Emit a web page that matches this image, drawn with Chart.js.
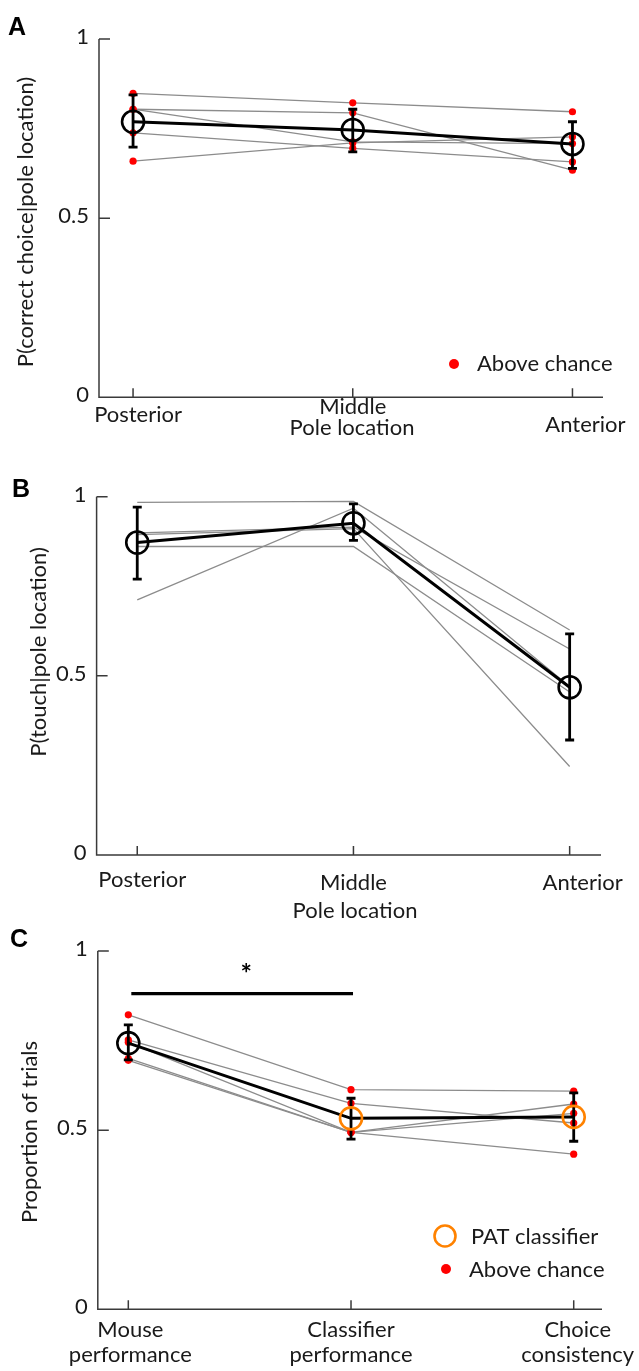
<!DOCTYPE html>
<html>
<head>
<meta charset="utf-8">
<title>Pole location / classifier</title>
<script src="https://cdn.jsdelivr.net/npm/chart.js"></script>
<style>
  html, body { margin: 0; padding: 0; background: #fff; }
  #figura { position: relative; width: 639px; height: 1371px; }
  canvas { position: absolute; left: 0; top: 0; }
</style>
</head>
<body>
<div id="figura">
  <canvas id="chartA" width="639" height="1371"></canvas>
  <canvas id="chartB" width="639" height="1371"></canvas>
  <canvas id="chartC" width="639" height="1371"></canvas>
</div>
<script>
// ---- datos ----
const poleLocations = ['Posterior', 'Middle', 'Anterior'];
const metricLabels = [['Mouse', 'performance'], ['Classifier', 'performance'], ['Choice', 'consistency']];
const yTicks = [0, 0.5, 1];

// A: P(correct choice | pole location), una fila por raton
const correctByMouse = [
  [0.848, 0.822, 0.797],
  [0.804, 0.794, 0.634],
  [0.804, 0.713, 0.708],
  [0.738, 0.695, 0.657],
  [0.659, 0.710, 0.727]
];
const correctMean = [0.769, 0.746, 0.707];
const correctLow = [0.698, 0.685, 0.639];
const correctHigh = [0.844, 0.804, 0.769];

// B: P(touch | pole location)
const touchByMouse = [
  [0.984, 0.987, 0.628],
  [0.712, 0.968, 0.470],
  [0.899, 0.915, 0.575],
  [0.894, 0.911, 0.247],
  [0.861, 0.861, 0.455]
];
const touchMean = [0.872, 0.926, 0.468];
const touchLow = [0.770, 0.878, 0.321];
const touchHigh = [0.971, 0.980, 0.617];

// C: proporcion de ensayos
const choiceByMouse = [
  [0.822, 0.613, 0.609],
  [0.752, 0.575, 0.520],
  [0.745, 0.494, 0.573],
  [0.700, 0.494, 0.547],
  [0.695, 0.494, 0.433]
];
const choiceMean = [0.743, 0.533, 0.537];
const choiceLow = [0.696, 0.475, 0.469];
const choiceHigh = [0.794, 0.589, 0.604];
const sigFrom = 0, sigTo = 1, sigLevel = 0.881, sigStarY = 0.952;

// ---- estilo ----
const FONT = '"Lato", "Open Sans", sans-serif';
const AXIS = '#3a3a3a';
const GRAY = '#8c8c8c';
const RED = '#ff0000';
const ORANGE = '#ff8200';
const H = 1371;

function pts(arr) { return arr.map((v, i) => ({ x: i, y: v })); }

function decor(p) {
  return {
    id: 'decor' + p.letter,
    afterDatasetDraw(chart, args) {
      if (chart.data.datasets[args.index].label !== 'media') return;
      const { ctx, scales: { x, y } } = chart;
      ctx.save();
      ctx.strokeStyle = '#000';
      ctx.lineWidth = 2.8;
      p.low.forEach((lo, i) => {
        const px = x.getPixelForValue(i);
        const y1 = y.getPixelForValue(lo), y2 = y.getPixelForValue(p.high[i]);
        ctx.beginPath();
        ctx.moveTo(px, y1); ctx.lineTo(px, y2);
        ctx.moveTo(px - 4.5, y1); ctx.lineTo(px + 4.5, y1);
        ctx.moveTo(px - 4.5, y2); ctx.lineTo(px + 4.5, y2);
        ctx.stroke();
      });
      ctx.restore();
    },
    afterDraw(chart) {
      const { ctx, chartArea: a, scales: { x, y } } = chart;
      ctx.save();
      // ejes
      ctx.strokeStyle = AXIS;
      ctx.lineWidth = 1.5;
      ctx.beginPath();
      ctx.moveTo(a.left, y.getPixelForValue(1));
      ctx.lineTo(a.left, y.getPixelForValue(0));
      ctx.lineTo(a.right, y.getPixelForValue(0));
      yTicks.forEach(t => {
        const py = y.getPixelForValue(t);
        ctx.moveTo(a.left, py); ctx.lineTo(a.left + 11, py);
      });
      p.xLabels.forEach((_, i) => {
        const px = x.getPixelForValue(i);
        ctx.moveTo(px, a.bottom); ctx.lineTo(px, a.bottom - 9);
      });
      ctx.stroke();

      ctx.fillStyle = '#1a1a1a';
      ctx.font = '22px ' + FONT;
      ctx.textAlign = 'right';
      ctx.textBaseline = 'middle';
      yTicks.forEach(t => ctx.fillText(String(t), a.left - 10, y.getPixelForValue(t) - 2));

      // etiquetas del eje x
      ctx.textAlign = 'center';
      ctx.textBaseline = 'alphabetic';
      p.xLabels.forEach((lab, i) => {
        const px = x.getPixelForValue(i) + p.xLabelDx[i];
        const lines = Array.isArray(lab) ? lab : [lab];
        lines.forEach((ln, k) => ctx.fillText(ln, px, p.xLabelY[i] + k * 25));
      });
      if (p.xTitle) ctx.fillText(p.xTitle, p.xTitleX, p.xTitleY);

      // titulo eje y
      ctx.save();
      ctx.translate(p.yTitleX, p.yTitleY);
      ctx.rotate(-Math.PI / 2);
      ctx.textBaseline = 'middle';
      ctx.fillText(p.yTitle, 0, 0);
      ctx.restore();

      // letra del panel
      ctx.fillStyle = '#000';
      ctx.font = 'bold 25px "Liberation Sans", Arial, sans-serif';
      ctx.textAlign = 'left';
      ctx.fillText(p.letter, p.letterX, p.letterY);

      // leyenda
      ctx.font = '22px ' + FONT;
      p.legend.forEach(item => {
        if (item.kind === 'dot') {
          ctx.fillStyle = RED;
          ctx.beginPath(); ctx.arc(item.mx, item.my, 5, 0, Math.PI * 2); ctx.fill();
        } else {
          ctx.strokeStyle = ORANGE; ctx.lineWidth = 2.6;
          ctx.beginPath(); ctx.arc(item.mx, item.my, 10.5, 0, Math.PI * 2); ctx.stroke();
        }
        ctx.fillStyle = '#1a1a1a';
        ctx.fillText(item.text, item.tx, item.ty);
      });

      // barra de significancia
      if (p.sig) {
        ctx.strokeStyle = '#000';
        ctx.lineWidth = 3.3;
        const sy = y.getPixelForValue(sigLevel);
        ctx.beginPath();
        ctx.moveTo(x.getPixelForValue(sigFrom) + 3, sy);
        ctx.lineTo(x.getPixelForValue(sigTo) + 2, sy);
        ctx.stroke();
        ctx.fillStyle = '#000';
        ctx.font = 'bold 27px ' + FONT;
        ctx.textAlign = 'center';
        ctx.textBaseline = 'middle';
        ctx.fillText('*', x.getPixelForValue(0.53), y.getPixelForValue(sigStarY) + 6);
      }
      ctx.restore();
    }
  };
}

function buildChart(id, p) {
  const datasets = [];
  datasets.push({
    label: 'puntos', data: pts(p.mean), showLine: false, order: 1, clip: false,
    pointRadius: 11, pointHoverRadius: 11, pointBorderWidth: 2.6,
    pointBackgroundColor: 'rgba(0,0,0,0)', pointBorderColor: p.meanColors
  });
  datasets.push({
    label: 'media', data: pts(p.mean), order: 2, clip: false,
    borderColor: '#000', borderWidth: 3, pointRadius: 0, tension: 0
  });
  if (p.dots) {
    datasets.push({
      label: 'dots', data: p.mice.flatMap(m => pts(m)), showLine: false, order: 3, clip: false,
      pointRadius: 3.6, pointHoverRadius: 3.6, pointBorderWidth: 0, pointBackgroundColor: RED
    });
  }
  p.mice.forEach((m, k) => datasets.push({
    label: 'raton' + (k + 1), data: pts(m), order: 4, clip: false,
    borderColor: GRAY, borderWidth: 1.3, pointRadius: 0, tension: 0
  }));

  // area del grafico en coordenadas absolutas de la figura
  const padding = { top: p.yTop, bottom: H - p.yBottom, left: p.xLeft, right: 639 - p.xRight };

  return new Chart(document.getElementById(id), {
    type: 'line',
    data: { datasets },
    options: {
      responsive: false,
      animation: false,
      devicePixelRatio: 1,
      events: [],
      layout: { padding },
      plugins: { legend: { display: false }, tooltip: { enabled: false } },
      scales: {
        x: { type: 'linear', min: p.xMin, max: p.xMax, display: false },
        y: { type: 'linear', min: 0, max: 1, display: false }
      }
    },
    plugins: [decor(p)]
  });
}

buildChart('chartA', {
  letter: 'A', letterX: 8, letterY: 35,
  mice: correctByMouse, mean: correctMean, low: correctLow, high: correctHigh,
  meanColors: ['#000', '#000', '#000'], dots: true,
  yTop: 39, yBottom: 397.3, xLeft: 99, xRight: 603,
  xMin: -0.155, xMax: 2.139,
  xLabels: poleLocations, xLabelDx: [5, 0, 13], xLabelY: [422, 414, 432],
  xTitle: 'Pole location', xTitleX: 352, xTitleY: 435,
  yTitle: 'P(correct choice|pole location)', yTitleX: 26, yTitleY: 222,
  legend: [{ kind: 'dot', mx: 454, my: 364, text: 'Above chance', tx: 477, ty: 371 }]
});

buildChart('chartB', {
  letter: 'B', letterX: 12, letterY: 497,
  mice: touchByMouse, mean: touchMean, low: touchLow, high: touchHigh,
  meanColors: ['#000', '#000', '#000'], dots: false,
  yTop: 496.7, yBottom: 855, xLeft: 96.6, xRight: 601,
  xMin: -0.188, xMax: 2.145,
  xLabels: poleLocations, xLabelDx: [5, 0, 13], xLabelY: [887, 890, 890],
  xTitle: 'Pole location', xTitleX: 355, xTitleY: 918,
  yTitle: 'P(touch|pole location)', yTitleX: 39, yTitleY: 652,
  legend: []
});

buildChart('chartC', {
  letter: 'C', letterX: 10, letterY: 947,
  mice: choiceByMouse, mean: choiceMean, low: choiceLow, high: choiceHigh,
  meanColors: ['#000', ORANGE, ORANGE], dots: true, sig: true,
  yTop: 951, yBottom: 1309.3, xLeft: 97.8, xRight: 602,
  xMin: -0.137, xMax: 2.127,
  xLabels: metricLabels, xLabelDx: [2, 0, 4], xLabelY: [1337, 1337, 1337],
  xTitle: null,
  yTitle: 'Proportion of trials', yTitleX: 30, yTitleY: 1132,
  legend: [
    { kind: 'ring', mx: 445, my: 1236, text: 'PAT classifier', tx: 471, ty: 1244 },
    { kind: 'dot', mx: 446, my: 1269, text: 'Above chance', tx: 469, ty: 1277 }
  ]
});
</script>
</body>
</html>
